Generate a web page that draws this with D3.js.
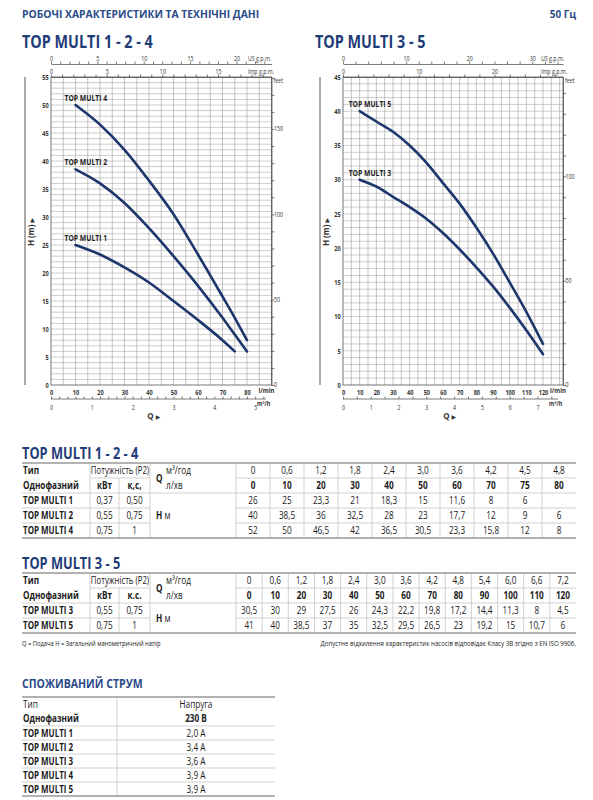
<!DOCTYPE html>
<meta charset="utf-8">
<style>
body { margin: 0; background: #fff; }
text { font-family: "Open Sans", "Noto Sans", sans-serif; }
</style>
<body>
<svg id="sheet" width="593" height="800"></svg>
<script src="https://cdn.jsdelivr.net/npm/d3@7"></script>
<script>

// curve data, Q in l/min and H in m (same values as the tables)
var qLeft = [0, 10, 20, 30, 40, 50, 60, 70, 75, 80];
var m3Left = ["0", "0,6", "1,2", "1,8", "2,4", "3,0", "3,6", "4,2", "4,5", "4,8"];
var hMulti1 = [26, 25, 23.3, 21, 18.3, 15, 11.6, 8, 6, null];
var hMulti2 = [40, 38.5, 36, 32.5, 28, 23, 17.7, 12, 9, 6];
var hMulti4 = [52, 50, 46.5, 42, 36.5, 30.5, 23.3, 15.8, 12, 8];

var qRight = [0, 10, 20, 30, 40, 50, 60, 70, 80, 90, 100, 110, 120];
var m3Right = ["0", "0,6", "1,2", "1,8", "2,4", "3,0", "3,6", "4,2", "4,8", "5,4", "6,0", "6,6", "7,2"];
var hMulti3 = [30.5, 30, 29, 27.5, 26, 24.3, 22.2, 19.8, 17.2, 14.4, 11.3, 8, 4.5];
var hMulti5 = [41, 40, 38.5, 37, 35, 32.5, 29.5, 26.5, 23, 19.2, 15, 10.7, 6];

// motor data
var types124 = ["TOP MULTI 1", "TOP MULTI 2", "TOP MULTI 4"];
var kw124 = ["0,37", "0,55", "0,75"];
var hp124 = ["0,50", "0,75", "1"];
var types35 = ["TOP MULTI 3", "TOP MULTI 5"];
var kw35 = ["0,55", "0,75"];
var hp35 = ["0,75", "1"];

var currentTypes = ["TOP MULTI 1", "TOP MULTI 2", "TOP MULTI 3", "TOP MULTI 4", "TOP MULTI 5"];
var currentAmps = ["2,0 А", "3,4 А", "3,6 А", "3,9 А", "3,9 А"];

// unit conversions
var FT = 3.28084, USG = 0.264172, IMPG = 0.219969, M3H = 0.06;

var BLUE = "#1f3c78", INK = "#1a1a1a", GRID = "#ababab", LINE = "#999";

var svg = d3.select("#sheet");
svg.append("rect").attr("width", 593).attr("height", 800).attr("fill", "#fff");

// condensed text helper (horizontal squeeze to get a narrow face)
function label(parent, x, y, str, o) {
  o = o || {};
  return parent.append("text")
    .attr("transform", "translate(" + x + "," + y + ") scale(" + (o.sx || 0.85) + ",1)")
    .attr("text-anchor", o.anchor || "start")
    .attr("font-size", o.size || 9)
    .attr("font-weight", o.bold ? 700 : 400)
    .attr("fill", o.fill || INK)
    .text(str);
}

// page header
label(svg, 22, 18, "РОБОЧІ ХАРАКТЕРИСТИКИ ТА ТЕХНІЧНІ ДАНІ", {size: 11, bold: true, fill: "#2b4a88", sx: 0.94});
label(svg, 576, 18, "50 Гц", {size: 11, bold: true, fill: "#2b4a88", anchor: "end", sx: 0.9});
label(svg, 22, 48, "TOP MULTI 1 - 2 - 4", {size: 18, bold: true, fill: BLUE, sx: 0.8});
label(svg, 315, 48, "TOP MULTI 3 - 5", {size: 18, bold: true, fill: BLUE, sx: 0.8});

function chart(c) {
  var g = svg.append("g");
  var x = d3.scaleLinear().domain([0, c.qMax]).range([c.x0, c.x1]);
  var y = d3.scaleLinear().domain([0, c.hMax]).range([c.y1, c.y0]);

  // grid
  g.selectAll(".vg").data(d3.range(5, c.qMax, 5)).enter().append("line")
    .attr("x1", function(d) { return x(d); }).attr("x2", function(d) { return x(d); })
    .attr("y1", c.y0).attr("y2", c.y1)
    .attr("stroke", GRID).attr("stroke-width", 0.7);
  g.selectAll(".hg").data(d3.range(1, c.hMax, 1)).enter().append("line")
    .attr("y1", function(d) { return y(d); }).attr("y2", function(d) { return y(d); })
    .attr("x1", c.x0).attr("x2", c.x1)
    .attr("stroke", GRID).attr("stroke-width", 0.6);
  g.append("rect").attr("x", c.x0).attr("y", c.y0)
    .attr("width", c.x1 - c.x0).attr("height", c.y1 - c.y0)
    .attr("fill", "none").attr("stroke", "#555").attr("stroke-width", 0.8);

  // left H labels
  var ax = g.append("g").attr("transform", "translate(" + c.x0 + ",0)")
    .call(d3.axisLeft(y).tickValues(d3.range(0, c.hMax + 0.1, 5)).tickSize(0).tickPadding(3));
  ax.select(".domain").remove();

  // bottom l/min labels
  var bx = g.append("g").attr("transform", "translate(0," + c.y1 + ")")
    .call(d3.axisBottom(x).tickValues(d3.range(0, c.lminMax + 0.1, 10)).tickSize(0).tickPadding(5));
  bx.select(".domain").remove();
  [ax, bx].forEach(function(a) {
    a.selectAll("text").attr("font-size", 7).attr("font-weight", 700).attr("fill", "#333")
      .attr("font-family", "Open Sans").attr("transform", "scale(0.8,1)");
  });
  bx.selectAll(".tick text").attr("x", 0);
  label(g, c.x1 + c.lminDx, c.y1 + 8, "l/min", {size: 7.5, bold: true, fill: "#333", sx: 0.8, anchor: "end"});

  function tickAxis(axis, pos, every, unit, unitX, unitY, ty) {
    axis.tickSizeOuter(0).tickFormat(function(d) {
      return Math.abs(d / every - Math.round(d / every)) < 1e-6 ? d3.format("d")(d) : "";
    });
    var a = g.append("g").attr("transform", pos).call(axis);
    a.select(".domain").attr("stroke", "#444").attr("stroke-width", 0.7);
    a.selectAll(".tick line").attr("stroke", "#444").attr("stroke-width", 0.7);
    a.selectAll(".tick text").attr("font-size", 6.2).attr("fill", "#333")
      .attr("font-family", "Open Sans").attr("y", ty).attr("transform", "scale(0.85,1)");
    if (unit) label(g, unitX, unitY, unit, {size: 6.2, fill: "#333", sx: 0.85});
    return a;
  }

  // US and Imp gallons per minute along the top
  var us = d3.scaleLinear().domain([0, c.qMax * USG]).range([c.x0, c.x1]);
  tickAxis(d3.axisTop(us).tickValues(d3.range(0, c.usMax + 0.01, c.usStep)).tickSize(2.5),
    "translate(0," + c.usY + ")", c.usLabel, "US g.p.m.", c.usUnitX, c.usY - 3, -3.5);
  var imp = d3.scaleLinear().domain([0, c.qMax * IMPG]).range([c.x0, c.x1]);
  tickAxis(d3.axisTop(imp).tickValues(d3.range(0, c.impMax + 0.01, c.impStep)).tickSize(2.5),
    "translate(0," + c.y0 + ")", c.impLabel, "Imp g.p.m.", c.impUnitX, c.y0 - 3, -3.5);

  // m3/h under the plot
  var m3 = d3.scaleLinear().domain([0, c.qMax * M3H]).range([c.x0, c.x1]);
  var m3a = tickAxis(d3.axisBottom(m3).tickValues(d3.range(0, c.m3Max + 0.001, c.m3Step)).tickSize(-2.5),
    "translate(0," + c.m3Y + ")", 1, null, 0, 0, 7);
  m3a.select(".domain").attr("d", "M" + c.x0 + ",0H" + c.m3End);
  label(g, c.m3UnitX, c.m3Y + 7, "m³/h", {size: 6.5, bold: true, fill: "#333", sx: 0.85});

  // feet on the right
  var ft = d3.scaleLinear().domain([0, c.hMax * FT]).range([c.y1, c.y0]);
  var fa = tickAxis(d3.axisRight(ft).tickValues(d3.range(0, c.hMax * FT, 10)).tickSize(3),
    "translate(" + c.x1 + ",0)", 50, "feet", c.x1 + 2, c.y0 + 6, 0);
  fa.selectAll(".tick text").attr("x", 3).attr("dy", "0.32em");

  // Q and H axis titles
  g.append("line").attr("x1", c.axisX).attr("x2", c.axisX).attr("y1", c.y0).attr("y2", c.y1)
    .attr("stroke", "#555").attr("stroke-width", 1);
  var ht = g.append("text").attr("transform", "translate(" + (c.axisX + 9) + "," + c.hTitleY + ") rotate(-90)")
    .attr("text-anchor", "middle").attr("font-size", 8).attr("font-weight", 700).attr("fill", "#333");
  ht.append("tspan").text("H (m) ");
  ht.append("tspan").attr("font-family", "DejaVu Sans").attr("font-size", 6).text("▶");
  var qt = g.append("text").attr("x", x(c.qTitle)).attr("y", 419)
    .attr("text-anchor", "middle").attr("font-size", 8).attr("font-weight", 700).attr("fill", "#333");
  qt.append("tspan").text("Q ");
  qt.append("tspan").attr("font-family", "DejaVu Sans").attr("font-size", 6).text("▶");

  // pump curves, drawn from 10 l/min on
  var line = d3.line()
    .defined(function(d) { return d.h != null; })
    .x(function(d) { return x(d.q); })
    .y(function(d) { return y(d.h); })
    .curve(d3.curveMonotoneX);
  c.curves.forEach(function(cv) {
    var pts = cv.q.map(function(q, i) { return {q: q, h: cv.h[i]}; }).filter(function(d) { return d.q >= 10 && d.h != null; });
    g.append("path").datum(pts).attr("d", line)
      .attr("fill", "none").attr("stroke", "#1d366c").attr("stroke-width", 2.6)
      .attr("stroke-linecap", "round");
    label(g, x(pts[0].q) - 11, y(pts[0].h) - 4, cv.name, {size: 8.5, bold: true, fill: "#222", sx: 0.8});
  });
}

chart({x0: 51, x1: 271.5, y0: 77, y1: 385, qMax: 90, hMax: 55, lminMax: 80, lminDx: 3,
  usY: 64, usMax: 23, usStep: 1, usLabel: 5, usUnitX: 248,
  impMax: 19, impStep: 1, impLabel: 5, impUnitX: 248,
  m3Y: 399, m3Max: 5.2, m3Step: 0.2, m3End: 266, m3UnitX: 257,
  axisX: 25, hTitleY: 232, qTitle: 42,
  curves: [{name: "TOP MULTI 4", q: qLeft, h: hMulti4},
           {name: "TOP MULTI 2", q: qLeft, h: hMulti2},
           {name: "TOP MULTI 1", q: qLeft, h: hMulti1}]});

chart({x0: 343, x1: 563, y0: 77, y1: 385, qMax: 132, hMax: 45, lminMax: 120, lminDx: 3,
  usY: 64, usMax: 34, usStep: 2, usLabel: 10, usUnitX: 541,
  impMax: 28, impStep: 2, impLabel: 10, impUnitX: 541,
  m3Y: 399, m3Max: 7.5, m3Step: 0.5, m3End: 558, m3UnitX: 549,
  axisX: 320, hTitleY: 232, qTitle: 64,
  curves: [{name: "TOP MULTI 5", q: qRight, h: hMulti5},
           {name: "TOP MULTI 3", q: qRight, h: hMulti3}]});

// performance tables
function hline(g, x1, x2, yy, w, col) {
  g.append("line").attr("x1", x1).attr("x2", x2).attr("y1", yy).attr("y2", yy)
    .attr("stroke", col || "#bdbdbd").attr("stroke-width", w || 0.7);
}
function vline(g, xx, y1, y2) {
  g.append("line").attr("x1", xx).attr("x2", xx).attr("y1", y1).attr("y2", y2)
    .attr("stroke", "#bdbdbd").attr("stroke-width", 0.7);
}

function perfTable(t) {
  var g = svg.append("g");
  var L = 22, R = 576, cName = 90, cKw = 119, cHp = 150, cQ = 236;
  var rh = t.rowH, n = t.types.length;
  var rows = d3.range(n + 3).map(function(i) { return t.top + i * rh; });
  var bottom = rows[n + 2];
  var col = d3.scaleBand().domain(d3.range(t.m3.length)).range([cQ, R]);
  label(g, L, t.top - 4, t.title, {size: 16, bold: true, fill: BLUE, sx: 0.8});

  // grid lines
  hline(g, cName, cHp, rows[1]); hline(g, cQ, R, rows[1]);
  hline(g, L, R, rows[2]);
  for (var i = 3; i < n + 2; i++) { hline(g, L, cHp, rows[i]); hline(g, cQ, R, rows[i]); }
  [cName, cHp, cQ].forEach(function(xx) { vline(g, xx, t.top, bottom); });
  vline(g, cKw, rows[1], bottom);
  col.domain().slice(1).forEach(function(i) { vline(g, col(i), t.top, bottom); });
  hline(g, L, R, t.top, 1.6, LINE); hline(g, L, R, bottom, 1.6, LINE);

  function mid(i) { return rows[i] + rh / 2 + 3.5; }
  var fs = 10;
  label(g, L + 1, mid(0), "Тип", {size: fs, bold: true, sx: 0.82});
  label(g, L + 1, mid(1), "Однофазний", {size: fs, bold: true, sx: 0.82});
  label(g, (cName + cHp) / 2, mid(0), "Потужність (P2)", {size: fs, anchor: "middle", sx: 0.78});
  label(g, (cName + cKw) / 2, mid(1), "кВт", {size: fs, bold: true, anchor: "middle", sx: 0.82});
  label(g, (cKw + cHp) / 2, mid(1), t.hpLabel, {size: fs, bold: true, anchor: "middle", sx: 0.82});
  label(g, cHp + 6, rows[1] + 4, "Q", {size: fs, bold: true, sx: 0.82});
  label(g, cHp + 16, mid(0), "м³/год", {size: fs, sx: 0.82});
  label(g, cHp + 16, mid(1), "л/хв", {size: fs, sx: 0.82});
  var hm = label(g, cHp + 6, (rows[2] + bottom) / 2 + 3.5, "", {size: fs, sx: 0.82});
  hm.append("tspan").attr("font-weight", 700).text("H");
  hm.append("tspan").text(" м");

  t.m3.forEach(function(v, i) {
    var cx = col(i) + col.bandwidth() / 2;
    label(g, cx, mid(0), v, {size: fs, anchor: "middle", sx: 0.82});
    label(g, cx, mid(1), t.q[i], {size: fs, bold: true, anchor: "middle", sx: 0.82});
  });
  t.types.forEach(function(name, r) {
    label(g, L + 1, mid(r + 2), name, {size: fs, bold: true, sx: 0.8});
    label(g, (cName + cKw) / 2, mid(r + 2), t.kw[r], {size: fs, anchor: "middle", sx: 0.82});
    label(g, (cKw + cHp) / 2, mid(r + 2), t.hp[r], {size: fs, anchor: "middle", sx: 0.82});
    t.heads[r].forEach(function(h, i) {
      if (h == null) return;
      label(g, col(i) + col.bandwidth() / 2, mid(r + 2), String(h).replace(".", ","), {size: fs, anchor: "middle", sx: 0.82});
    });
  });
}

perfTable({title: "TOP MULTI 1 - 2 - 4", top: 463, rowH: 15, m3: m3Left, q: qLeft, hpLabel: "к,с,",
  types: types124, kw: kw124, hp: hp124, heads: [hMulti1, hMulti2, hMulti4]});
perfTable({title: "TOP MULTI 3 - 5", top: 573, rowH: 15, m3: m3Right, q: qRight, hpLabel: "к.с.",
  types: types35, kw: kw35, hp: hp35, heads: [hMulti3, hMulti5]});

// footnotes
label(svg, 22, 646, "Q = Подача    H = Загальний манометричний напір", {size: 6.8, sx: 0.85});
label(svg, 576, 646, "Допустне відхилення характеристик насосів відповідає Класу 3В згідно з EN ISO 9906.", {size: 7, sx: 0.88, anchor: "end"});

// current table
(function() {
  var g = svg.append("g");
  var L = 22, R = 275, cDiv = 117, top = 697, rh = 14;
  var cx = 196;
  label(g, L, 688, "СПОЖИВАНИЙ СТРУМ", {size: 12, bold: true, fill: "#2b4a88", sx: 0.88});
  var rowsTop = 726;
  var bottom = rowsTop + currentTypes.length * rh;
  vline(g, cDiv, top, bottom);
  hline(g, L, R, rowsTop);
  currentTypes.forEach(function(d, i) { if (i > 0) hline(g, L, R, rowsTop + i * rh); });
  hline(g, L, R, top, 1.6, LINE); hline(g, L, R, bottom, 1.6, LINE);
  label(g, L + 1, 708, "Тип", {size: 10, sx: 0.82});
  label(g, L + 1, 722, "Однофазний", {size: 10, bold: true, sx: 0.82});
  label(g, cx, 708, "Напруга", {size: 10, anchor: "middle", sx: 0.82});
  label(g, cx, 722, "230 В", {size: 10, bold: true, anchor: "middle", sx: 0.82});
  currentTypes.forEach(function(d, i) {
    var yy = rowsTop + i * rh + rh / 2 + 3.5;
    label(g, L + 1, yy, d, {size: 10, bold: true, sx: 0.8});
    label(g, cx, yy, currentAmps[i], {size: 10, anchor: "middle", sx: 0.82});
  });
})();

</script>
</body>
